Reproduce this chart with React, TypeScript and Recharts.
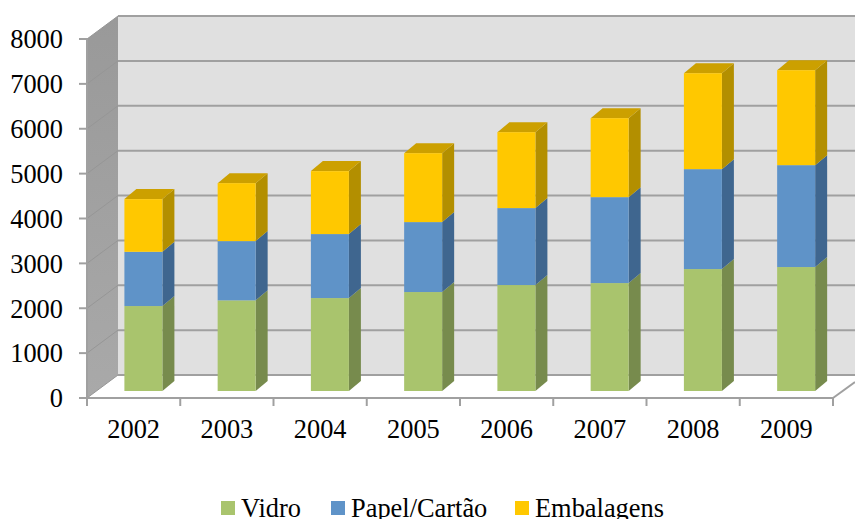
import React from 'react';
import { BarChart, Bar, XAxis, YAxis, CartesianGrid, Legend } from 'recharts';

const years = ['2002', '2003', '2004', '2005', '2006', '2007', '2008', '2009'];
const vidro = [1893, 2020, 2071, 2205, 2361, 2405, 2717, 2762];
const papel = [1209, 1320, 1426, 1559, 1715, 1915, 2227, 2271];
const embalagens = [1174, 1292, 1403, 1536, 1692, 1760, 2138, 2116];
const yTicks = [0, 1000, 2000, 3000, 4000, 5000, 6000, 7000, 8000];

const chartData = years.map((year, i) => ({
  year,
  Vidro: vidro[i],
  'Papel/Cartão': papel[i],
  Embalagens: embalagens[i],
}));

const FONT = '"Liberation Serif", serif';
const GREY = '#a0a0a0';

// plot box on the front plane, and how far the back wall sits behind it
const LEFT = 87;
const RIGHT = 833;
const TOP = 39;
const BOTTOM = 398;
const WALL_DX = 31;
const WALL_DY = 23;

// bars stand part way into the floor
const BAR_DX = 9.4;
const BAR_DY = 7;
const DEPTH_DX = 12;
const DEPTH_DY = 10;

const BAND = (RIGHT - LEFT) / years.length;

const Walls = () => (
  <g>
    <polygon
      points={`${LEFT + WALL_DX},${TOP - WALL_DY} 855,${TOP - WALL_DY} 855,${BOTTOM - WALL_DY} ${LEFT + WALL_DX},${BOTTOM - WALL_DY}`}
      fill="#e0e0e0"
    />
    <polygon
      points={`${LEFT},${TOP} ${LEFT + WALL_DX},${TOP - WALL_DY} ${LEFT + WALL_DX},${BOTTOM - WALL_DY} ${LEFT},${BOTTOM}`}
      fill="url(#sideWall)"
    />
    <defs>
      <linearGradient id="sideWall" x1="0" y1="0" x2="0" y2="1">
        <stop offset="0%" stopColor="#999999" />
        <stop offset="100%" stopColor="#a9a9a9" />
      </linearGradient>
    </defs>
    <line x1={RIGHT} y1={BOTTOM} x2={855} y2={BOTTOM - 16} stroke={GREY} strokeWidth={2} />
  </g>
);

// the walls go in with the first line so the rest of the grid sits over them
const gridLine = (props: any) => {
  const { x1, y1, index } = props;
  const backY = y1 - WALL_DY;
  return (
    <g key={`grid-${y1}`}>
      {index === 0 && <Walls />}
      <line x1={x1} y1={y1} x2={x1 + WALL_DX} y2={backY} stroke="#969696" strokeWidth={1} />
      <line x1={x1 + WALL_DX} y1={backY} x2={855} y2={backY} stroke={GREY} strokeWidth={2} />
    </g>
  );
};

// category ticks sit between the bands, not under the labels
const YearTick = (props: any) => {
  const { x, index, payload } = props;
  const tickX = x - BAND / 2;
  return (
    <g>
      <line x1={tickX} y1={BOTTOM} x2={tickX} y2={BOTTOM + 8} stroke={GREY} strokeWidth={2} />
      {index === years.length - 1 && (
        <line x1={tickX + BAND} y1={BOTTOM} x2={tickX + BAND} y2={BOTTOM + 8} stroke={GREY} strokeWidth={2} />
      )}
      <text x={x} y={BOTTOM + 40} textAnchor="middle" fill="#000" fontSize={26.4} fontFamily={FONT}>
        {payload.value}
      </text>
    </g>
  );
};

const makeBlock = (front: string, side: string, top?: string) => (props: any) => {
  const { x, y, width, height } = props;
  const left = x + BAR_DX;
  const right = left + width;
  const up = y - BAR_DY;
  const down = up + height;
  return (
    <g>
      <polygon
        points={`${right},${up} ${right + DEPTH_DX},${up - DEPTH_DY} ${right + DEPTH_DX},${down - DEPTH_DY} ${right},${down}`}
        fill={side}
      />
      {top && (
        <polygon
          points={`${left},${up} ${left + DEPTH_DX},${up - DEPTH_DY} ${right + DEPTH_DX},${up - DEPTH_DY} ${right},${up}`}
          fill={top}
        />
      )}
      <rect x={left} y={up} width={width} height={height} fill={front} />
    </g>
  );
};

const legendItems = [
  { name: 'Vidro', color: '#a9c46d', width: 110 },
  { name: 'Papel/Cartão', color: '#5f93c8', width: 184 },
  { name: 'Embalagens', color: '#ffc800', width: 150 },
];

const LegendContent = () => (
  <div style={{ display: 'flex', fontFamily: FONT, fontSize: 26.4, lineHeight: '30px', color: '#000' }}>
    {legendItems.map((item) => (
      <div key={item.name} style={{ display: 'flex', alignItems: 'center', width: item.width, whiteSpace: 'nowrap' }}>
        <span style={{ display: 'inline-block', width: 14, height: 14, background: item.color, marginRight: 6 }} />
        <span>{item.name}</span>
      </div>
    ))}
  </div>
);

export default function App() {
  return (
    <div style={{ position: 'absolute', left: 0, top: 0, width: 855, height: 519, overflow: 'hidden' }}>
      <BarChart
        width={855}
        height={519}
        data={chartData}
        margin={{ top: TOP, right: 855 - RIGHT, bottom: 0, left: 0 }}
        barSize={38}
        style={{ fontFamily: FONT }}
      >
        <CartesianGrid vertical={false} horizontal={gridLine} />
        <XAxis
          dataKey="year"
          height={519 - BOTTOM}
          tick={<YearTick />}
          tickLine={false}
          interval={0}
          stroke={GREY}
          strokeWidth={2}
        />
        <YAxis
          width={LEFT}
          domain={[0, 8000]}
          ticks={yTicks}
          tick={{ fill: '#000', fontSize: 26.4, fontFamily: FONT }}
          tickSize={8}
          tickMargin={16}
          stroke={GREY}
          strokeWidth={2}
        />
        <Bar dataKey="Vidro" stackId="a" isAnimationActive={false} fill="#a9c46d" shape={makeBlock('#a9c46d', '#778b4d')} />
        <Bar dataKey="Papel/Cartão" stackId="a" isAnimationActive={false} fill="#5f93c8" shape={makeBlock('#5f93c8', '#3f668f')} />
        <Bar dataKey="Embalagens" stackId="a" isAnimationActive={false} fill="#ffc800" shape={makeBlock('#ffc800', '#b38f00', '#cca000')} />
        <Legend
          layout="vertical"
          align="center"
          verticalAlign="middle"
          content={<LegendContent />}
          wrapperStyle={{ left: 221, top: 493, width: 450 }}
        />
      </BarChart>
    </div>
  );
}
